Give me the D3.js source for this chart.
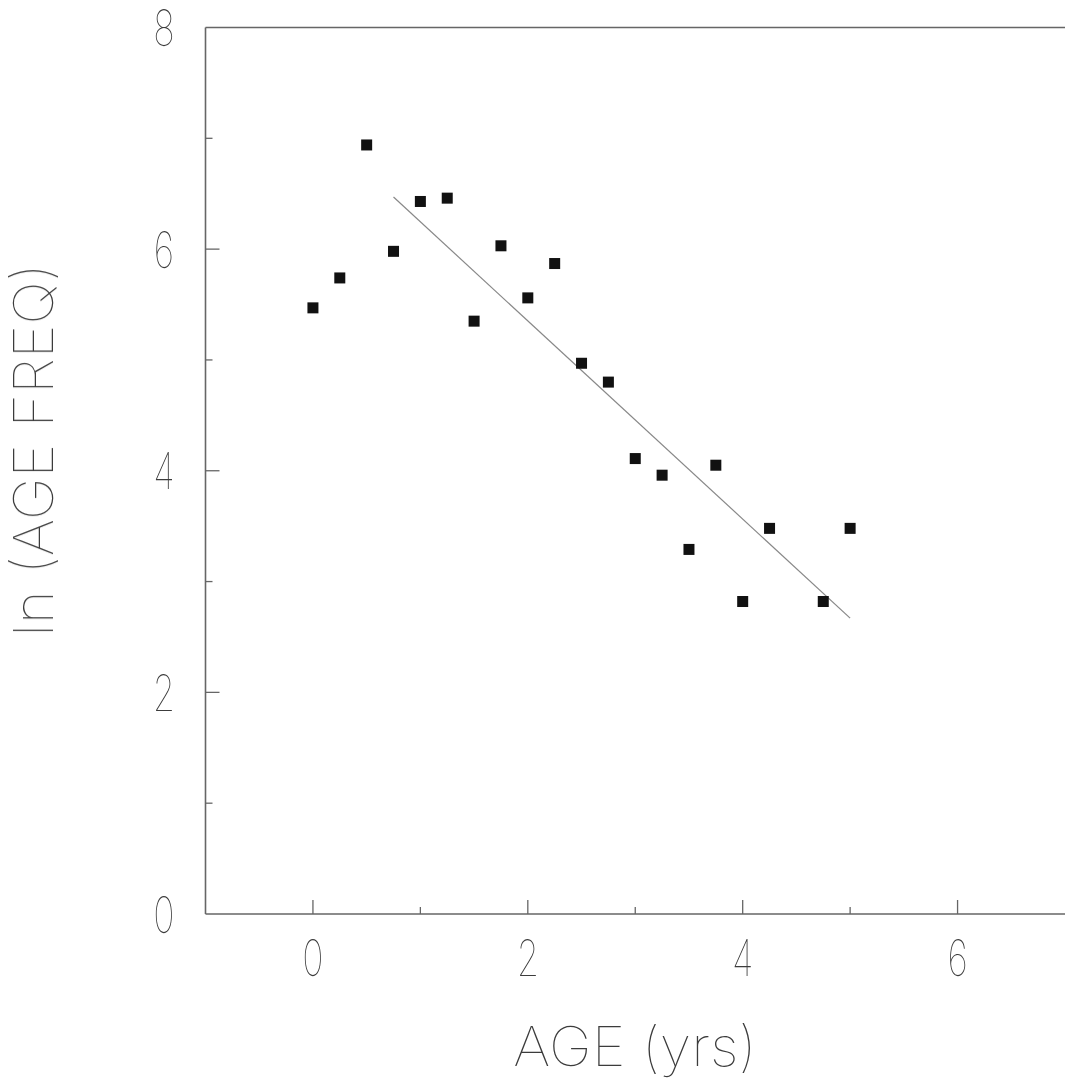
<!DOCTYPE html>
<html><head><meta charset="utf-8">
<script src="https://cdn.jsdelivr.net/npm/d3@7"></script>
<style>
html,body{margin:0;padding:0;background:#fff;}
text{font-family:Inter,"DejaVu Sans",sans-serif;font-weight:100;fill:#3a3a3a;}
.labels{opacity:0.99;}
</style></head>
<body>
<script>
const ages = [0, 0.25, 0.5, 0.75, 1.0, 1.25, 1.5, 1.75, 2.0, 2.25, 2.5, 2.75, 3.0, 3.25, 3.5, 3.75, 4.0, 4.25, 4.75, 5.0];
const lnFreq = [5.47, 5.74, 6.94, 5.98, 6.43, 6.46, 5.35, 6.03, 5.56, 5.87, 4.97, 4.80, 4.11, 3.96, 3.29, 4.05, 2.82, 3.48, 2.82, 3.48];
const fitX = [0.75, 5.0];
const fitY = [6.47, 2.67];
const xTickLabels = [0, 2, 4, 6];
const yTickLabels = [0, 2, 4, 6, 8];

const W = 1065, H = 1085;
const svg = d3.select("body").append("svg").attr("width", W).attr("height", H);

const x = d3.scaleLinear().domain([-1, 7]).range([205.5, 1065]);
const y = d3.scaleLinear().domain([0, 8]).range([914, 27.5]);

const axisColor = "#666";

// frame lines
svg.append("line").attr("x1", x(-1)).attr("x2", x(-1)).attr("y1", y(8)).attr("y2", y(0))
  .attr("stroke", axisColor).attr("stroke-width", 1.6);
svg.append("line").attr("x1", x(-1)).attr("x2", x(7)).attr("y1", y(0)).attr("y2", y(0))
  .attr("stroke", axisColor).attr("stroke-width", 1.6);
svg.append("line").attr("x1", x(-1)).attr("x2", x(7)).attr("y1", y(8)).attr("y2", y(8))
  .attr("stroke", axisColor).attr("stroke-width", 1.6);

// inward ticks
const xt = d3.range(0, 7, 1);
svg.append("g").selectAll("line").data(xt).join("line")
  .attr("x1", d => x(d)).attr("x2", d => x(d))
  .attr("y1", y(0)).attr("y2", d => y(0) - (d % 2 === 0 ? 14 : 7))
  .attr("stroke", axisColor).attr("stroke-width", 1.3);
const yt = d3.range(1, 8, 1);
svg.append("g").selectAll("line").data(yt).join("line")
  .attr("y1", d => y(d)).attr("y2", d => y(d))
  .attr("x1", x(-1)).attr("x2", d => x(-1) + (d % 2 === 0 ? 14 : 7))
  .attr("stroke", axisColor).attr("stroke-width", 1.3);

const labels = svg.append("g").attr("class", "labels");

// tick labels
labels.append("g").selectAll("text").data(xTickLabels).join("text")
  .attr("transform", d => `translate(${x(d)},${976}) scale(0.72,1)`)
  .attr("text-anchor", "middle").attr("font-size", 50)
  .text(d => d);
labels.append("g").selectAll("text").data(yTickLabels).join("text")
  .attr("transform", d => `translate(${164},${y(d) + 18.5}) scale(0.72,1)`)
  .attr("text-anchor", "middle").attr("font-size", 50)
  .text(d => d);

// axis titles
labels.append("text").attr("transform", "translate(635,1066) scale(1.05,1)")
  .attr("text-anchor", "middle").attr("font-size", 55).text("AGE (yrs)");
labels.append("text").attr("transform", "translate(53,450) rotate(-90) scale(1.05,1)")
  .attr("text-anchor", "middle").attr("font-size", 55).text("ln (AGE FREQ)");

// regression line
svg.append("line")
  .attr("x1", x(fitX[0])).attr("y1", y(fitY[0]))
  .attr("x2", x(fitX[1])).attr("y2", y(fitY[1]))
  .attr("stroke", "#888").attr("stroke-width", 1.2);

// points
const s = 11;
svg.append("g").selectAll("rect").data(ages.map((a, i) => [a, lnFreq[i]])).join("rect")
  .attr("x", d => x(d[0]) - s / 2).attr("y", d => y(d[1]) - s / 2)
  .attr("width", s).attr("height", s).attr("fill", "#111");
</script>
</body></html>
